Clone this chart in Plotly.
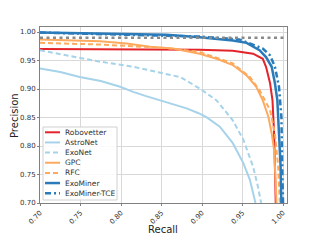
import plotly.graph_objects as go

# ---- data ----
names = ["Robovetter", "AstroNet", "ExoNet", "GPC", "RFC", "ExoMiner", "ExoMiner-TCE"]

robovetter_recall = [0.700, 0.800, 0.897, 0.938, 0.963, 0.975, 0.979, 0.984, 0.987, 0.989, 0.990, 0.991]
robovetter_prec   = [0.970, 0.970, 0.969, 0.967, 0.962, 0.953, 0.939, 0.910, 0.880, 0.822, 0.764, 0.700]

astronet_recall = [0.700, 0.725, 0.749, 0.775, 0.799, 0.815, 0.830, 0.848, 0.865, 0.881, 0.895, 0.905, 0.922, 0.938, 0.951, 0.959, 0.966]
astronet_prec   = [0.936, 0.930, 0.921, 0.914, 0.904, 0.895, 0.888, 0.880, 0.872, 0.866, 0.858, 0.851, 0.834, 0.805, 0.770, 0.741, 0.700]

exonet_recall = [0.700, 0.733, 0.774, 0.815, 0.844, 0.873, 0.897, 0.918, 0.938, 0.951, 0.963, 0.969, 0.973]
exonet_prec   = [0.968, 0.959, 0.948, 0.939, 0.930, 0.921, 0.901, 0.880, 0.845, 0.811, 0.764, 0.729, 0.700]

gpc_recall = [0.700, 0.774, 0.807, 0.836, 0.864, 0.897, 0.918, 0.938, 0.955, 0.967, 0.975, 0.982, 0.986, 0.989, 0.990, 0.992]
gpc_prec   = [0.987, 0.984, 0.980, 0.974, 0.971, 0.962, 0.953, 0.942, 0.924, 0.904, 0.880, 0.851, 0.822, 0.793, 0.764, 0.700]

rfc_recall = [0.700, 0.774, 0.815, 0.856, 0.897, 0.938, 0.959, 0.971, 0.984, 0.990, 0.994, 0.996]
rfc_prec   = [0.981, 0.978, 0.975, 0.972, 0.965, 0.945, 0.921, 0.898, 0.863, 0.822, 0.764, 0.700]

exominer_recall = [0.700, 0.856, 0.897, 0.938, 0.955, 0.971, 0.979, 0.986, 0.990, 0.993, 0.995, 0.997, 0.998]
exominer_prec   = [0.999, 0.995, 0.991, 0.985, 0.981, 0.968, 0.956, 0.939, 0.910, 0.880, 0.822, 0.764, 0.700]

exominer_tce_recall = [0.700, 0.897, 0.946, 0.975, 0.984, 0.990, 0.995, 0.998, 0.999, 1.000]
exominer_tce_prec   = [0.999, 0.992, 0.987, 0.971, 0.959, 0.939, 0.904, 0.851, 0.764, 0.700]

reference_precision = 0.99

x_ticks = [0.70, 0.75, 0.80, 0.85, 0.90, 0.95, 1.00]
y_ticks = [0.70, 0.75, 0.80, 0.85, 0.90, 0.95, 1.00]

# ---- styles ----
colors = ["#e3242b", "#a6d3ea", "#a6d3ea", "#fdaa5e", "#fdaa5e", "#2b7bba", "#2b7bba"]
dashes = ["solid", "solid", "5px,3px", "solid", "5px,3px", "solid", "6px,3px,2px,3px"]
widths = [2, 2, 2, 2, 2, 2.5, 2.5]

series = [
    (robovetter_recall, robovetter_prec),
    (astronet_recall, astronet_prec),
    (exonet_recall, exonet_prec),
    (gpc_recall, gpc_prec),
    (rfc_recall, rfc_prec),
    (exominer_recall, exominer_prec),
    (exominer_tce_recall, exominer_tce_prec),
]

fig = go.Figure()
for name, (xs, ys), c, d, w in zip(names, series, colors, dashes, widths):
    fig.add_trace(go.Scatter(x=xs, y=ys, mode="lines", name=name,
                             line=dict(color=c, dash=d, width=w), showlegend=False))

# dotted reference line
fig.add_shape(type="line", xref="paper", x0=0, x1=1, yref="y",
              y0=reference_precision, y1=reference_precision,
              line=dict(color="#8a8a8a", width=2.5, dash="3px,3.5px"))

# ---- layout geometry (screen pixels; page body has an 8px margin) ----
OFF = 8
L, R, T, B = 40, 287, 27, 203          # desired plot box on screen
W, H = R - L, B - T
px = lambda x: (x - L) / W
py = lambda y: (B - y) / H

# manual legend (compact, matplotlib-like)
fig.add_shape(type="rect", xref="paper", yref="paper",
              x0=px(43), x1=px(117), y0=py(200), y1=py(127),
              line=dict(color="#d0d0d0", width=1), fillcolor="rgba(255,255,255,0.85)")
for i, (name, c, d, w) in enumerate(zip(names, colors, dashes, widths)):
    yy = 132.3 + i * 10.15
    fig.add_shape(type="line", xref="paper", yref="paper",
                  x0=px(45), x1=px(60), y0=py(yy), y1=py(yy),
                  line=dict(color=c, dash=d, width=w))
    fig.add_annotation(text=name, xref="paper", yref="paper", x=px(63), y=py(yy),
                       xanchor="left", yanchor="middle", showarrow=False,
                       font=dict(family="DejaVu Sans", size=7.5, color="#333333"))

# axis titles as annotations at exact positions
fig.add_annotation(text="Recall", xref="paper", yref="paper", x=px(163), y=py(229),
                   xanchor="center", yanchor="middle", showarrow=False,
                   font=dict(family="DejaVu Sans", size=10, color="#222222"))
fig.add_annotation(text="Precision", xref="paper", yref="paper", x=px(15), y=py(116),
                   xanchor="center", yanchor="middle", showarrow=False, textangle=-90,
                   font=dict(family="DejaVu Sans", size=10, color="#222222"))

axis_common = dict(showgrid=True, gridcolor="#d9d9d9", gridwidth=1,
                   showline=True, linecolor="#808080", linewidth=1, mirror=True,
                   ticks="outside", ticklen=2, tickcolor="#808080",
                   tickfont=dict(family="DejaVu Sans", size=7, color="#333333"),
                   zeroline=False, automargin=False)

fig.update_layout(
    width=320, height=240,
    margin=dict(l=L - OFF, r=320 - (R - OFF), t=T - OFF, b=240 - (B - OFF)),
    paper_bgcolor="white", plot_bgcolor="white",
    font=dict(family="DejaVu Sans", color="#222222"),
    xaxis=dict(range=[0.70, 1.0049], tickvals=x_ticks,
               ticktext=[f"{v:.2f}" for v in x_ticks], tickangle=-45,
               **axis_common),
    yaxis=dict(range=[0.70, 1.0088], tickvals=y_ticks,
               ticktext=[f"{v:.2f}" for v in y_ticks],
               **axis_common),
)

fig.write_html("out.html")
